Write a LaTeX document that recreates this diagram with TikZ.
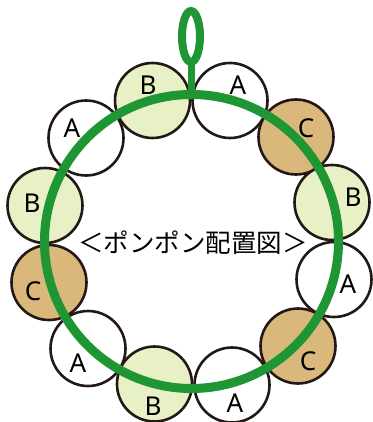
\documentclass[tikz,border=0pt]{standalone}
\usepackage{fontspec}
\setmainfont{Noto Sans}
\newfontfamily\cjk{Noto Sans CJK JP}
\definecolor{ringgreen}{RGB}{30,150,52}
\definecolor{pomB}{RGB}{232,240,197}
\definecolor{pomC}{RGB}{218,183,122}
\definecolor{pomline}{RGB}{35,24,21}
\tikzset{
  pom/.style={circle,draw=pomline,line width=2.6pt,minimum size=75pt,inner sep=0pt},
  pomA/.style={pom,fill=white},
  pomB/.style={pom,fill=pomB},
  pomC/.style={pom,fill=pomC},
  lab/.style={font=\fontsize{26}{26}\selectfont,text=black,inner sep=0pt},
  ring/.style={draw=ringgreen,line width=9pt},
}
\begin{document}
\begin{tikzpicture}[x=1pt,y=-1pt]
\useasboundingbox (0,0) rectangle (372,422);
% pompoms
\node[pomB] (p1) at (152.5,100.5) {};
\node[pomA] (p2) at (230,100.5) {};
\node[pomC] (p3) at (296,137) {};
\node[pomB] (p4) at (332,202.5) {};
\node[pomA] (p5) at (334,279.5) {};
\node[pomC] (p6) at (298,346) {};
\node[pomA] (p7) at (232,385) {};
\node[pomB] (p8) at (154.5,384) {};
\node[pomA] (p9) at (88,348.5) {};
\node[pomC] (p10) at (49,282.5) {};
\node[pomB] (p11) at (45,205.5) {};
\node[pomA] (p12) at (86,138) {};
% ring and hanging loop
\coordinate (rc) at (191.5,241.5);
\draw[ring] (rc) circle[radius=147];
\coordinate (stemtop) at (191,62);
\coordinate (stembot) at (191,95);
\draw[draw=ringgreen,line width=7pt] (stemtop) -- (stembot);
\draw[draw=ringgreen,line width=8pt] (191,36.5) ellipse[x radius=9,y radius=25.5];
% labels
\node[lab] (l1) at (148,85) {B};
\node[lab] (l2) at (238,85) {A};
\node[lab] (l3) at (306,128) {C};
\node[lab] (l4) at (353,197) {B};
\node[lab] (l5) at (348,284) {A};
\node[lab] (l6) at (308,361) {C};
\node[lab] (l7) at (235,403) {A};
\node[lab] (l8) at (153,406) {B};
\node[lab] (l9) at (78,363) {A};
\node[lab] (l10) at (33,291) {C};
\node[lab] (l11) at (32,203) {B};
\node[lab] (l12) at (72,128) {A};
% title
\node[font=\cjk\fontsize{25.5}{26}\selectfont,inner sep=0pt] (title) at (193,243) {＜ポンポン配置図＞};
\end{tikzpicture}
\end{document}
